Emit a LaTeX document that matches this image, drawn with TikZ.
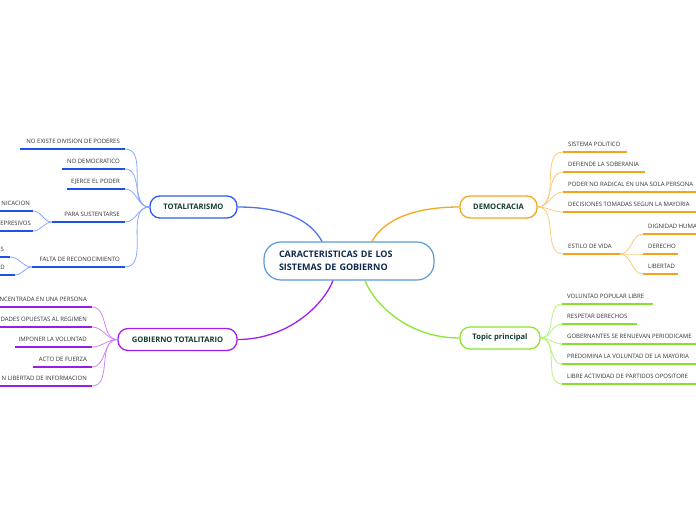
\documentclass[tikz,border=0pt]{standalone}
\usepackage{fontspec}
\setmainfont{Open Sans}
\definecolor{centerB}{HTML}{5B9BD5}
\definecolor{centertext}{HTML}{0F2A4A}
\definecolor{nodetext}{HTML}{123D30}
\definecolor{leaftext}{HTML}{333333}
\definecolor{blueB}{HTML}{2D5BF0}
\definecolor{blueU}{HTML}{2050E8}
\definecolor{blueC}{HTML}{8AA8FF}
\definecolor{orangeB}{HTML}{F5A623}
\definecolor{orangeU}{HTML}{F7A21B}
\definecolor{orangeC}{HTML}{FCCB7A}
\definecolor{purpleB}{HTML}{A020F0}
\definecolor{purpleU}{HTML}{9A1CE6}
\definecolor{purpleC}{HTML}{CC88F5}
\definecolor{greenB}{HTML}{8BE62E}
\definecolor{greenU}{HTML}{86E02A}
\definecolor{greenC}{HTML}{B8F27A}
\newcommand\leafL[7][5]{%
  \coordinate (#2a) at (#3,#5);
  \coordinate (#2b) at (#4,#5);
  \draw[#6] (#2a) -- (#2b);
  \node[leaf,anchor=base east] (#2) at ([shift={(-#1,-5.5)}]#2b) {#7};}
\newcommand\leafR[6]{%
  \coordinate (#1a) at (#2,#4);
  \coordinate (#1b) at (#3,#4);
  \draw[#5] (#1a) -- (#1b);
  \node[leaf,anchor=base west] (#1) at ([shift={(5,-6)}]#1a) {#6};}
\begin{document}
\begin{tikzpicture}[x=1pt,y=-1pt,
  leaf/.style={font=\fontsize{6}{7}\selectfont, text=leaftext, inner sep=0pt},
  central/.style={draw=centerB, line width=1.2pt, fill=white, rounded corners=17pt,
    minimum width=170pt, minimum height=38pt, text width=140pt, align=left,
    inner xsep=15pt, font=\fontsize{9}{13}\selectfont\bfseries, text=centertext},
  branch/.style={line width=1.3pt, fill=white, rounded corners=10pt, minimum height=22pt,
    inner sep=0pt, font=\fontsize{7.6}{8}\selectfont\bfseries, text=nodetext},
  ulB/.style={draw=blueU, line width=1.6pt},
  ulO/.style={draw=orangeU, line width=1.6pt},
  ulP/.style={draw=purpleU, line width=1.6pt},
  ulG/.style={draw=greenU, line width=1.6pt},
  curB/.style={draw=blueC, line width=0.8pt},
  curO/.style={draw=orangeC, line width=0.8pt},
  curP/.style={draw=purpleC, line width=0.8pt},
  curG/.style={draw=greenC, line width=0.8pt},
  mainline/.style={line width=1.3pt}]
\useasboundingbox (0,0) rectangle (696,520);
\fill[white] (0,0) rectangle (696,520);
\clip (0,0) rectangle (696,520);

% central and main topics
\node[central] (c) at (349,261) {CARACTERISTICAS DE LOS\\SISTEMAS DE GOBIERNO};
\node[branch, draw=blueB, minimum width=87pt] (tot) at (193.5,207) {TOTALITARISMO};
\node[branch, draw=orangeB, minimum width=77pt] (dem) at (498.5,207) {DEMOCRACIA};
\node[branch, draw=purpleB, minimum width=119pt] (gob) at (177.5,339.5) {GOBIERNO TOTALITARIO};
\node[branch, draw=greenB, minimum width=80pt] (top) at (500,338) {Topic principal};

\draw[mainline, draw=blueB!85] ([xshift=-27pt]c.north) .. controls +(-12,-22) and +(45,0) .. (tot.east);
\draw[mainline, draw=orangeB] ([xshift=23pt]c.north) .. controls +(12,-22) and +(-45,0) .. (dem.west);
\draw[mainline, draw=purpleB] ([xshift=-16pt]c.south) .. controls +(-10,25) and +(50,0) .. (gob.east);
\draw[mainline, draw=greenB] ([xshift=16pt]c.south) .. controls +(10,25) and +(-50,0) .. (top.west);

% TOTALITARISMO leaves
\leafL{t1}{20}{125}{149}{ulB}{NO EXISTE DIVISION DE PODERES}
\leafL{t2}{62}{125}{169}{ulB}{NO DEMOCRATICO}
\leafL{t3}{67}{125}{189}{ulB}{EJERCE EL PODER}
\leafL{t4}{52}{125}{222}{ulB}{PARA SUSTENTARSE}
\leafL{t5}{32}{125}{267}{ulB}{FALTA DE RECONOCIMIENTO}
\leafL[3]{t41}{-5}{33}{211}{ulB}{NICACION}
\leafL[2]{t42}{-5}{33}{231}{ulB}{EPRESIVOS}
\leafL[6]{t51}{-5}{10}{257}{ulB}{S}
\leafL[10]{t52}{-5}{15}{275}{ulB}{D}
\foreach \n in {t1,t2,t3,t4,t5}
  \draw[curB] (tot.west) to[out=180,in=0] (\n b);
\foreach \n in {t41,t42}
  \draw[curB] (t4a) to[out=180,in=0] (\n b);
\foreach \n in {t51,t52}
  \draw[curB] (t5a) to[out=180,in=0] (\n b);

% DEMOCRACIA leaves
\leafR{d1}{563}{627}{152}{ulO}{SISTEMA POLITICO}
\leafR{d2}{563}{645}{172}{ulO}{DEFIENDE LA SOBERANIA}
\leafR{d3}{563}{700}{192}{ulO}{PODER NO RADICAL EN UNA SOLA PERSONA}
\leafR{d4}{563}{700}{212}{ulO}{DECISIONES TOMADAS SEGUN LA MAYORIA}
\leafR{d5}{563}{620}{254}{ulO}{ESTILO DE VIDA}
\leafR{d51}{643}{700}{234}{ulO}{DIGNIDAD HUMA}
\leafR{d52}{643}{678}{254}{ulO}{DERECHO}
\leafR{d53}{643}{678}{274}{ulO}{LIBERTAD}
\foreach \n in {d1,d2,d3,d4,d5}
  \draw[curO] (dem.east) to[out=0,in=180] (\n a);
\foreach \n in {d51,d52,d53}
  \draw[curO] (d5b) to[out=0,in=180] (\n a);

% Topic principal leaves
\leafR{p1}{562}{653}{304}{ulG}{VOLUNTAD POPULAR LIBRE}
\leafR{p2}{562}{637}{324}{ulG}{RESPETAR DERECHOS}
\leafR{p3}{562}{700}{344}{ulG}{GOBERNANTES SE RENUEVAN PERIODICAME}
\leafR{p4}{562}{700}{364}{ulG}{PREDOMINA LA VOLUNTAD DE LA MAYORIA}
\leafR{p5}{562}{700}{384}{ulG}{LIBRE ACTIVIDAD DE PARTIDOS OPOSITORE}
\foreach \n in {p1,p2,p3,p4,p5}
  \draw[curG] (top.east) to[out=0,in=180] (\n a);

% GOBIERNO TOTALITARIO leaves
\leafL{g1}{-5}{92}{307}{ulP}{NCENTRADA EN UNA PERSONA}
\leafL{g2}{-5}{92}{327}{ulP}{DADES OPUESTAS AL REGIMEN}
\leafL{g3}{15}{92}{347}{ulP}{IMPONER LA VOLUNTAD}
\leafL{g4}{33}{92}{367}{ulP}{ACTO DE FUERZA}
\leafL{g5}{-5}{92}{386}{ulP}{N LIBERTAD DE INFORMACION}
\foreach \n in {g1,g2,g3,g4,g5}
  \draw[curP] (gob.west) to[out=180,in=0] (\n b);
\end{tikzpicture}
\end{document}
